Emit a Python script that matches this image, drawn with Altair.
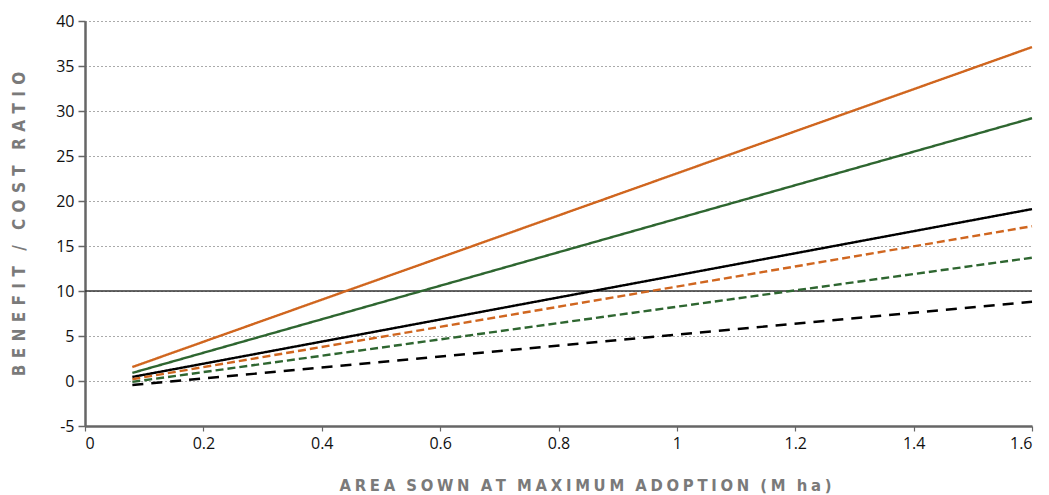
import altair as alt
import pandas as pd

x_start = 0.08
x_end = 1.6
series = ["orange_solid", "green_solid", "black_solid", "orange_dashed", "green_dashed", "black_dashed"]
y_start = [1.55, 0.9, 0.45, 0.2, -0.1, -0.45]
y_end = [37.1, 29.2, 19.1, 17.2, 13.7, 8.8]
colors = ["#d0661f", "#2e6630", "#000000", "#d0661f", "#2e6630", "#000000"]
dashes = [[1, 0], [1, 0], [1, 0], [8, 4], [8, 4], [11, 8]]

rows = []
for s, a, b in zip(series, y_start, y_end):
    rows.append({"series": s, "x": x_start, "y": a})
    rows.append({"series": s, "x": x_end, "y": b})
df = pd.DataFrame(rows)

xs = alt.Scale(domain=[0, 1.6], nice=False, zero=False)
ys = alt.Scale(domain=[-5, 40], nice=False, zero=False)


def spaced(words, ls, ws):
    return ws.join(ls.join(list(w)) for w in words)


y_title = spaced(["BENEFIT", "/", "COST", "RATIO"], "\u2005\u2006", "\u2002\u2002")
x_title = spaced(["AREA", "SOWN", "AT", "MAXIMUM", "ADOPTION", "(M", "ha)"], "\u2005", "\u2002\u2005")

lines = alt.Chart(df).mark_line(strokeWidth=2.4).encode(
    x=alt.X("x:Q", scale=xs, title=x_title,
            axis=alt.Axis(values=[0, 0.2, 0.4, 0.6, 0.8, 1, 1.2, 1.4, 1.6], grid=False,
                          tickSize=5, tickWidth=1.2, titlePadding=26, titleX=500, titleFontSize=16.5,
                          labelExpr="datum.value == 0 ? '0' : format(datum.value, '.1~f')")),
    y=alt.Y("y:Q", scale=ys, title=y_title,
            axis=alt.Axis(values=list(range(-5, 41, 5)), grid=True, tickSize=7, tickWidth=1.5,
                          titlePadding=27,
                          labelExpr="datum.value < 0 ? '-' + abs(datum.value) : '' + datum.value")),
    color=alt.Color("series:N", scale=alt.Scale(domain=series, range=colors), legend=None),
    strokeDash=alt.StrokeDash("series:N", scale=alt.Scale(domain=series, range=dashes), legend=None),
    detail="series:N",
)

ref_df = pd.DataFrame({"y": [10]})
ref = alt.Chart(ref_df).mark_rule(color="#333333", strokeWidth=1.4).encode(y=alt.Y("y:Q", scale=ys))

chart = alt.layer(ref, lines).properties(
    width=947, height=405,
    padding={"left": 77, "top": 13, "right": 9, "bottom": 68},
    autosize=alt.AutoSizeParams(type="none"),
).configure_view(stroke=None).configure_axis(
    domainColor="#666666", domainWidth=2.5, tickColor="#666666",
    labelFont="Open Sans", labelFontSize=16, labelColor="#111111", labelPadding=4,
    titleFont="DejaVu Sans Condensed", titleFontSize=17, titleFontWeight="bold", titleColor="#7a7a7a",
    gridColor="#555555", gridDash=[1, 3], gridWidth=1,
)

chart.save("out.html", embed_options={"renderer": "svg", "actions": False})
